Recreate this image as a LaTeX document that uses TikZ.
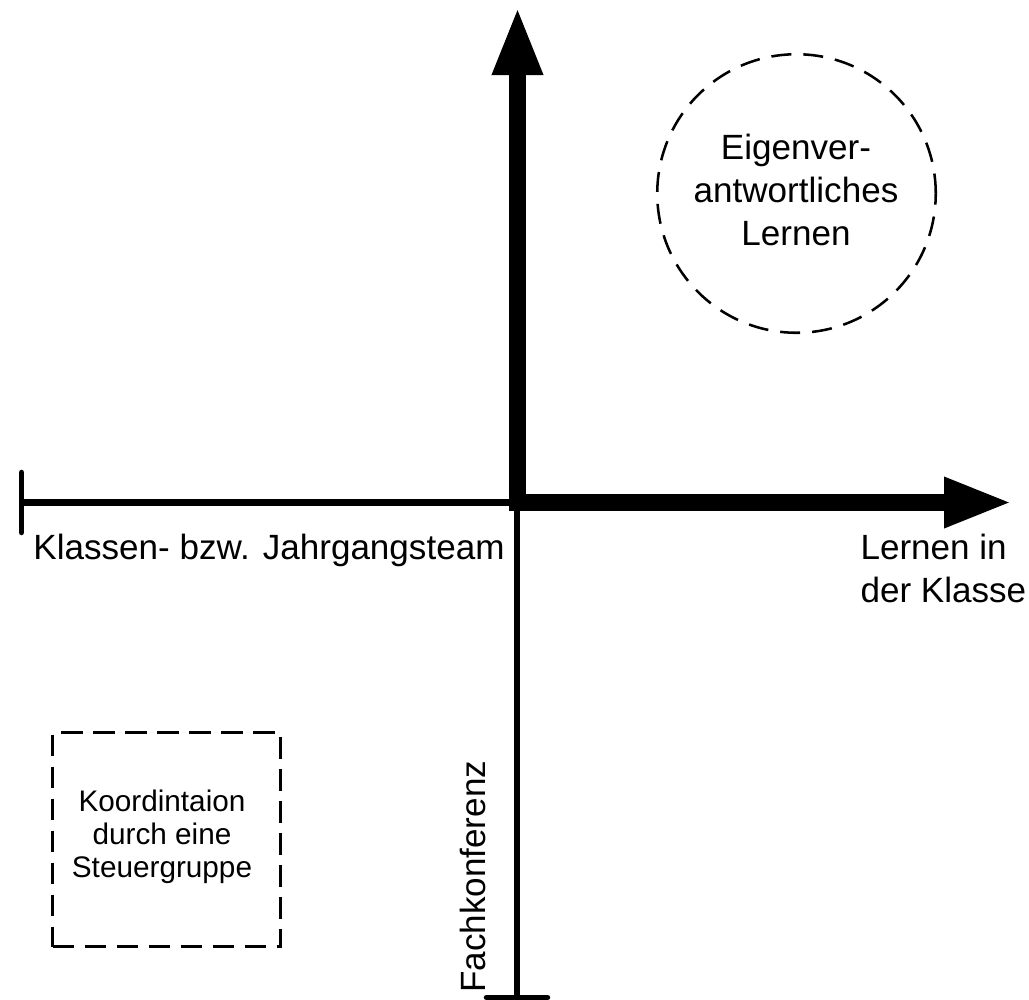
\documentclass[tikz,border=0pt]{standalone}
\usepackage{fontspec}
\setmainfont{Liberation Sans}
\usetikzlibrary{arrows.meta}
\begin{document}
\begin{tikzpicture}[x=0.75pt,y=-0.75pt,
  thickaxis/.style={line width=13.1pt, -{Triangle[length=51.75pt,width=34.5pt]}},
  thinaxis/.style={line width=4.9pt},
  tickline/.style={line width=4.2pt, line cap=round},
  biglabel/.style={font=\fontsize{26.3}{32}\selectfont, inner sep=0pt, outer sep=0pt},
  boxlabel/.style={font=\fontsize{22.3}{24.75}\selectfont, inner sep=0pt, outer sep=0pt, align=center},
  dashcircle/.style={draw, circle, line width=1.9pt, dash pattern=on 15pt off 9pt, minimum size=208.9pt, inner sep=0pt, outer sep=0pt},
  dashbox/.style={draw, rectangle, line width=2.2pt, dash pattern=on 16pt off 8pt, minimum width=171pt, minimum height=160.5pt, inner sep=0pt, outer sep=0pt}]
\useasboundingbox (0,0) rectangle (1029,1000);
% axis points
\coordinate (O) at (517.5,502.5);
\coordinate (hstart) at (508.8,502.5);
\coordinate (htip) at (1013,502.5);
\coordinate (vstart) at (517.5,511.2);
\coordinate (vtip) at (517.5,6);
\coordinate (left) at (21.5,502.5);
\coordinate (lefttop) at (21.5,472.5);
\coordinate (leftbot) at (21.5,532.5);
\coordinate (vtop) at (517,502.5);
\coordinate (bottom) at (517,997.5);
\coordinate (botl) at (486.5,997.5);
\coordinate (botr) at (547.5,997.5);
% thin axes
\draw[thinaxis] (left) -- (O);
\draw[thinaxis] (vtop) -- (bottom);
\draw[tickline] (lefttop) -- (leftbot);
\draw[tickline] (botl) -- (botr);
% thick axes
\draw[thickaxis] (vstart) -- (vtip);
\draw[thickaxis] (hstart) -- (htip);
% labels
\node[biglabel, anchor=base west] (klassen) at (33.5,559) {Klassen- bzw. Jahrgangsteam};
\node[biglabel, anchor=base west, align=left] (lernen) at (860.5,602) {Lernen in\\der Klasse};
\node[biglabel, anchor=base west, rotate=90] (fach) at (485,992.8) {Fachkonferenz};
% circle
\node[dashcircle] (circ) at (796.5,193.5) {};
\node[biglabel, align=center] (circtext) [anchor=base] at (796,245) {Eigenver-\\antwortliches\\Lernen};
% box
\node[dashbox] (box) at (166.5,839.5) {};
\node[boxlabel, anchor=base] (boxtext) at (162,877) {Koordintaion\\durch eine\\Steuergruppe};
\end{tikzpicture}
\end{document}
